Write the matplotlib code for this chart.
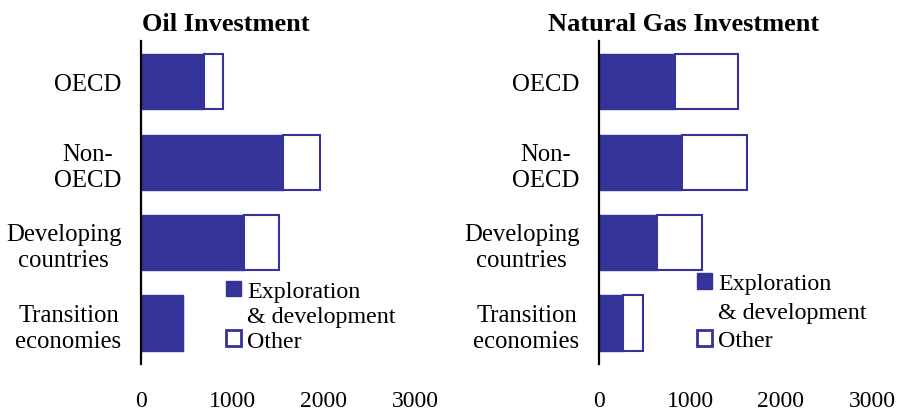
import numpy as np
import matplotlib
matplotlib.use('Agg')
import matplotlib.pyplot as plt
from matplotlib.patches import Rectangle

# data
regions = ['OECD', 'Non-\nOECD', 'Developing\ncountries', 'Transition\neconomies']
oil_explore = [690, 1550, 1130, 455]
oil_other = [205, 415, 385, 0]
gas_explore = [835, 915, 640, 265]
gas_other = [695, 715, 495, 220]
xticks = [0, 1000, 2000, 3000]
legend_labels = ['Exploration', '& development', 'Other']

BLUE = '#333399'

plt.rcParams['font.family'] = ['Liberation Serif', 'DejaVu Serif']


def DrawPanel(ax, title, explore, other, legendAnchor, legendSpacing):
    y = np.arange(len(regions))
    ax.barh(y, explore, height=0.685, color=BLUE, edgecolor=BLUE, linewidth=1)
    ax.barh(y, other, left=explore, height=0.685, color='white',
            edgecolor=BLUE, linewidth=1.5)

    ax.set_xlim(0, 3000)
    ax.set_ylim(3.51, -0.51)
    ax.set_xticks(xticks)
    ax.set_xticklabels([str(t) for t in xticks], fontsize=17)
    ax.set_yticks(y)
    ax.set_yticklabels(regions, fontsize=17.8)
    for lbl in ax.get_yticklabels():
        lbl.set_multialignment('center')
        lbl.set_linespacing(1.25)

    ax.tick_params(axis='y', length=0, pad=14)
    ax.tick_params(axis='x', length=0, pad=19)
    for side in ['top', 'right', 'bottom']:
        ax.spines[side].set_visible(False)
    ax.spines['left'].set_linewidth(1.6)
    ax.spines['left'].set_color('black')

    ax.set_title(title, x=0.31, fontsize=19, fontweight='bold', pad=8)

    # legend: second line of the first label is a blank-handle row
    handles = [Rectangle((0, 0), 1, 1, facecolor=BLUE, edgecolor=BLUE, linewidth=1),
               Rectangle((0, 0), 1, 1, facecolor='none', edgecolor='none'),
               Rectangle((0, 0), 1, 1, facecolor='white', edgecolor=BLUE, linewidth=2)]
    ax.legend(handles, legend_labels, loc='upper left', bbox_to_anchor=legendAnchor,
              frameon=False, fontsize=17.3, handlelength=0.63, handleheight=0.63,
              handletextpad=0.25, labelspacing=legendSpacing, borderpad=0,
              borderaxespad=0)


fig = plt.figure(figsize=(9.01, 4.14), dpi=100)
ax1 = fig.add_axes([0.1565, 0.1184, 0.3041, 0.7802])
ax2 = fig.add_axes([0.6648, 0.1184, 0.3030, 0.7802])

DrawPanel(ax1, 'Oil Investment', oil_explore, oil_other, (0.31, 0.258), 0.15)
DrawPanel(ax2, 'Natural Gas Investment', gas_explore, gas_other, (0.358, 0.282), 0.3)

fig.savefig('out.png', dpi=100)
plt.close(fig)
